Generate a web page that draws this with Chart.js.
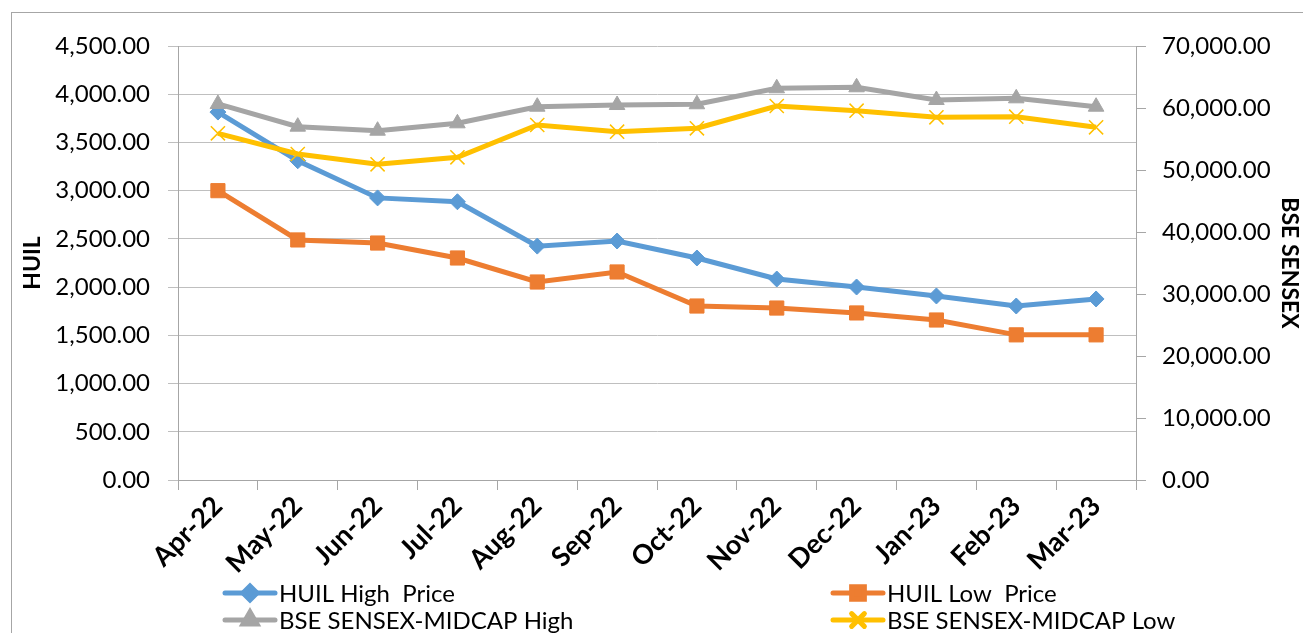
<!DOCTYPE html>
<html>
<head>
<meta charset="utf-8">
<script src="https://cdn.jsdelivr.net/npm/chart.js@4.4.1/dist/chart.umd.min.js"></script>
<style>
  html, body { margin: 0; padding: 0; background: #fff; }
  #wrap { position: relative; width: 1303px; height: 633px; overflow: hidden; }
  #frame { position: absolute; left: 11px; top: 12px; width: 1400px; height: 700px;
           border-left: 1px solid #a6a6a6; border-top: 1px solid #a6a6a6; }
  canvas { position: absolute; left: 0; top: 0; }
</style>
</head>
<body>
<div id="wrap">
  <div id="frame"></div>
  <canvas id="my-chart" width="1303" height="633"></canvas>
</div>
<script>
const months = ["Apr-22", "May-22", "Jun-22", "Jul-22", "Aug-22", "Sep-22",
                "Oct-22", "Nov-22", "Dec-22", "Jan-23", "Feb-23", "Mar-23"];

const huilHigh = [3815, 3310, 2925, 2885, 2425, 2478, 2302, 2084, 2001, 1908, 1804, 1877];
const huilLow = [3000, 2489, 2457, 2302, 2053, 2157, 1804, 1783, 1732, 1659, 1505, 1505];
const bseHigh = [60650, 56990, 56340, 57530, 60210, 60480, 60600, 63180, 63340, 61290, 61560, 60210];
const bseLow = [55920, 52580, 50920, 52050, 57260, 56180, 56730, 60320, 59570, 58500, 58600, 56890];

const fontName = "Lato, 'Open Sans', sans-serif";

function fmt(v) {
  return Number(v).toLocaleString("en-US", { minimumFractionDigits: 2, maximumFractionDigits: 2 });
}

// legend laid out in two columns like the original
const legendSlots = [
  { x: 225, y: 593 },
  { x: 833, y: 593 },
  { x: 225, y: 620 },
  { x: 833, y: 620 },
];

const columnLegend = {
  id: "columnLegend",
  afterDraw(chart) {
    const ctx = chart.ctx;
    chart.data.datasets.forEach((ds, i) => {
      const slot = legendSlots[i];
      ctx.save();
      ctx.strokeStyle = ds.borderColor;
      ctx.lineWidth = 5;
      ctx.lineCap = "round";
      ctx.beginPath();
      ctx.moveTo(slot.x, slot.y);
      ctx.lineTo(slot.x + 50, slot.y);
      ctx.stroke();
      ctx.fillStyle = ds.pointBackgroundColor;
      ctx.strokeStyle = ds.pointBorderColor;
      Chart.helpers.drawPoint(ctx, {
        pointStyle: ds.pointStyle,
        radius: ds.pointRadius - 1,
        rotation: 0,
        borderWidth: ds.pointBorderWidth,
      }, slot.x + 25, slot.y);
      ctx.fillStyle = "#000";
      ctx.font = "24px " + fontName;
      ctx.textBaseline = "middle";
      ctx.fillText(ds.label, slot.x + 54, slot.y + 1);
      ctx.restore();
    });
  },
};

const ctx = document.getElementById("my-chart").getContext("2d");
const chart = new Chart(ctx, {
  type: "line",
  data: {
    labels: months,
    datasets: [
      {
        label: "HUIL High  Price",
        data: huilHigh,
        yAxisID: "y",
        borderColor: "#5B9BD5",
        backgroundColor: "#5B9BD5",
        pointBackgroundColor: "#5B9BD5",
        pointBorderColor: "#5B9BD5",
        pointStyle: "rectRot",
        pointRadius: 8,
        pointBorderWidth: 1,
        borderWidth: 5,
        order: 2,
      },
      {
        label: "HUIL Low  Price",
        data: huilLow,
        yAxisID: "y",
        borderColor: "#ED7D31",
        backgroundColor: "#ED7D31",
        pointBackgroundColor: "#ED7D31",
        pointBorderColor: "#ED7D31",
        pointStyle: "rect",
        pointRadius: 10,
        pointBorderWidth: 1,
        borderWidth: 5,
        order: 3,
      },
      {
        label: "BSE SENSEX-MIDCAP High",
        data: bseHigh,
        yAxisID: "y1",
        borderColor: "#A5A5A5",
        backgroundColor: "#A5A5A5",
        pointBackgroundColor: "#A5A5A5",
        pointBorderColor: "#A5A5A5",
        pointStyle: "triangle",
        pointRadius: 9,
        pointBorderWidth: 1,
        borderWidth: 5,
        order: 1,
      },
      {
        label: "BSE SENSEX-MIDCAP Low",
        data: bseLow,
        yAxisID: "y1",
        borderColor: "#FFC000",
        backgroundColor: "#FFC000",
        pointBackgroundColor: "#FFC000",
        pointBorderColor: "#FFC000",
        pointStyle: "crossRot",
        pointRadius: 10,
        pointBorderWidth: 1.5,
        borderWidth: 5,
        order: 0,
      },
    ],
  },
  options: {
    responsive: false,
    animation: false,
    layout: { padding: { top: 46, left: 0, right: 0, bottom: 0 } },
    plugins: {
      legend: { display: false },
      tooltip: { enabled: false },
    },
    scales: {
      x: {
        type: "category",
        offset: true,
        grid: { offset: true, drawOnChartArea: false, tickLength: 10, color: "#a6a6a6" },
        border: { color: "#a6a6a6" },
        ticks: {
          minRotation: 45,
          maxRotation: 45,
          color: "#000",
          padding: 0,
          font: { family: fontName, size: 27, weight: "bold" },
        },
        afterFit(scale) { scale.height = 153; },
      },
      y: {
        position: "left",
        min: 0,
        max: 4500,
        ticks: {
          stepSize: 500,
          color: "#000",
          padding: 18,
          font: { family: fontName, size: 24 },
          callback: (v) => fmt(v),
        },
        grid: { color: "#bfbfbf", tickLength: 10 },
        border: { color: "#a6a6a6" },
        title: {
          display: true,
          text: "HUIL",
          color: "#000",
          padding: { top: 19, bottom: 0 },
          font: { family: fontName, size: 23, weight: "bold" },
        },
        afterFit(scale) { scale.width = 178; },
      },
      y1: {
        position: "right",
        min: 0,
        max: 70000,
        ticks: {
          stepSize: 10000,
          color: "#000",
          padding: 16,
          font: { family: fontName, size: 24 },
          callback: (v) => fmt(v),
        },
        grid: { drawOnChartArea: false, color: "#a6a6a6", tickLength: 10 },
        border: { color: "#a6a6a6" },
        title: {
          display: true,
          text: "BSE SENSEX",
          color: "#000",
          padding: { top: 0, bottom: 0 },
          font: { family: fontName, size: 23, weight: "bold" },
        },
        afterFit(scale) { scale.width = 167; },
      },
    },
  },
  plugins: [columnLegend],
});
</script>
</body>
</html>
